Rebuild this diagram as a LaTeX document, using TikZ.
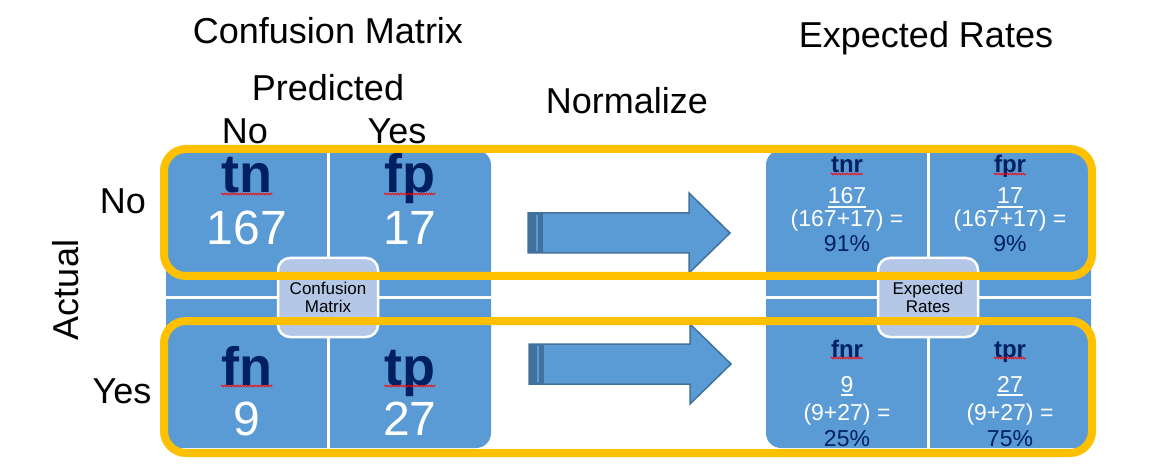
\documentclass[tikz,border=0pt]{standalone}
\usepackage{fontspec}
\setmainfont{Liberation Sans}
\usetikzlibrary{decorations.pathmorphing}
\definecolor{cmblue}{HTML}{5B9BD5}
\definecolor{cmlight}{HTML}{B4C7E7}
\definecolor{cmyellow}{HTML}{FFC000}
\definecolor{cmnavy}{HTML}{002060}
\definecolor{cmedge}{HTML}{41719C}
\newcommand\numul[1]{\setbox0\hbox{#1}\rlap{\rule[-3.8pt]{\wd0}{1.8pt}}\box0}
\begin{document}
\begin{tikzpicture}[x=1pt,y=-1pt,
  title/.style={anchor=base, inner sep=0pt, font=\fontsize{36}{40}\selectfont},
  bigtag/.style={anchor=base, inner sep=0pt, text=cmnavy, font=\fontsize{54}{58}\selectfont\bfseries},
  bignum/.style={anchor=base, inner sep=0pt, text=white, font=\fontsize{48}{52}\selectfont},
  smalltag/.style={anchor=base, inner sep=0pt, text=cmnavy, font=\fontsize{24}{26}\selectfont\bfseries},
  smallnum/.style={anchor=base, inner sep=0pt, text=white, font=\fontsize{23}{25}\selectfont},
  smallpct/.style={smallnum, text=cmnavy},
  centerbox/.style={draw=white, line width=2.5pt, fill=cmlight, rounded corners=12pt, minimum width=100pt, minimum height=79pt, align=center, font=\fontsize{17}{18}\selectfont, inner sep=0pt},
  hilite/.style={draw=cmyellow, line width=8pt, rounded corners=22pt},
  squig/.style={draw=red, line width=0.7pt, decorate, decoration={zigzag, amplitude=0.9pt, segment length=2.6pt}},
  arrowbody/.style={fill=cmblue, draw=cmedge, line width=1.5pt, line join=miter},
]
\useasboundingbox (0,0) rectangle (1156,470);
\fill[white] (0,0) rectangle (1156,470);

% titles
\node[title] (t1) at (328,44) {Confusion Matrix};
\node[title] (t2) at (926,48) {Expected Rates};
\node[title] (t3) at (328,101) {Predicted};
\node[title] (t4) at (627,114) {Normalize};
\node[title] (pno) at (245,144) {No};
\node[title] (pyes) at (397,144) {Yes};
\node[title] (ano) at (123,214) {No};
\node[title] (ayes) at (122,403) {Yes};
\node[title, rotate=90] (act) at (78,290) {Actual};

% left matrix
\fill[cmblue, rounded corners=15pt] (166,150) rectangle (491,448);
\fill[white] (326.5,150) rectangle (329.5,448);
\fill[white] (166,295.5) rectangle (491,299);
\node[centerbox] (cm) at (328,297.5) {Confusion\\Matrix};

% right matrix
\fill[cmblue, rounded corners=15pt] (766,150) rectangle (1091,448);
\fill[white] (926.5,150) rectangle (929.5,448);
\fill[white] (766,295.5) rectangle (1091,299);
\node[centerbox] (er) at (928,297.5) {Expected\\Rates};

% arrows
\draw[arrowbody] (528,213) -- (689,213) -- (689,193) -- (730,233) -- (689,273) -- (689,253) -- (528,253) -- cycle;
\fill[cmedge] (528,213) rectangle (543,253);
\fill[cmblue] (535.7,215) rectangle (537.7,251);
\draw[arrowbody] (529,344) -- (690,344) -- (690,324) -- (731,364) -- (690,404) -- (690,384) -- (529,384) -- cycle;
\fill[cmedge] (529,344) rectangle (544,384);
\fill[cmblue] (536.7,346) rectangle (538.7,382);

% left cells
\node[bigtag] (tn) at (247,193) {tn};
\node[bignum] (tnv) at (247,245) {167};
\node[bigtag] (fp) at (410,193) {fp};
\node[bignum] (fpv) at (410,245) {17};
\node[bigtag] (fn) at (247,385) {fn};
\node[bignum] (fnv) at (247,435) {9};
\node[bigtag] (tp) at (410,385) {tp};
\node[bignum] (tpv) at (410,435) {27};

% right cells
\node[smalltag] (tnr) at (847,173) {tnr};
\node[smallnum] (tnra) at (847,204) {\numul{167}};
\node[smallnum] (tnrb) at (847,227) {(167+17) =};
\node[smallpct] (tnrc) at (847,252) {91\%};
\node[smalltag] (fpr) at (1010,173) {fpr};
\node[smallnum] (fpra) at (1010,204) {\numul{17}};
\node[smallnum] (fprb) at (1010,227) {(167+17) =};
\node[smallpct] (fprc) at (1010,252) {9\%};
\node[smalltag] (fnr) at (847,357) {fnr};
\node[smallnum] (fnra) at (847,392) {\numul{9}};
\node[smallnum] (fnrb) at (847,420) {(9+27) =};
\node[smallpct] (fnrc) at (847,446) {25\%};
\node[smalltag] (tpr) at (1010,357) {tpr};
\node[smallnum] (tpra) at (1010,392) {\numul{27}};
\node[smallnum] (tprb) at (1010,420) {(9+27) =};
\node[smallpct] (tprc) at (1010,446) {75\%};

% spell-check squiggles
\foreach \n in {tn,fp,fn,tp,tnr,fpr,fnr,tpr}
  \draw[squig] ([yshift=-1pt]\n.base west) -- ([yshift=-1pt]\n.base east);

% highlight boxes
\draw[hilite] (164,149) rectangle (1092,276);
\draw[hilite] (164,321) rectangle (1092,453);
\end{tikzpicture}
\end{document}
